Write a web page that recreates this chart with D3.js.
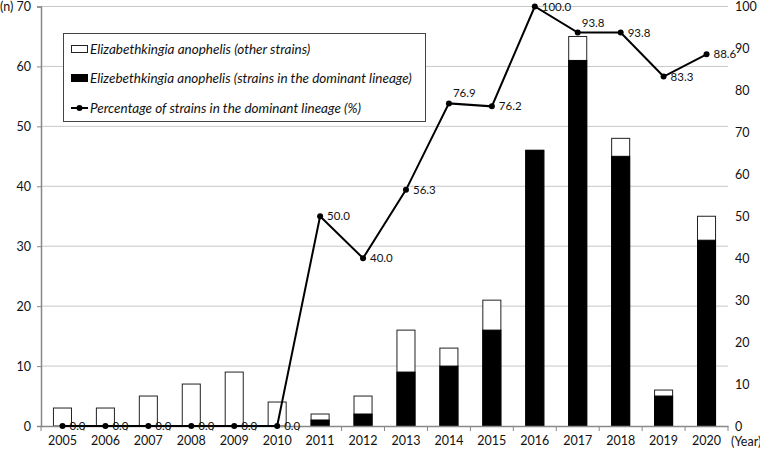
<!DOCTYPE html>
<html><head><meta charset="utf-8">
<script src="https://cdn.jsdelivr.net/npm/d3@7"></script>
<style>body{margin:0;background:#fff}svg{display:block}text{font-family:Lato,"Open Sans","DejaVu Sans",sans-serif}</style>
</head><body><svg id="c" width="760" height="451"></svg>
<script>
const years = ["2005","2006","2007","2008","2009","2010","2011","2012","2013","2014","2015","2016","2017","2018","2019","2020"];
const totalStrains = [3,3,5,7,9,4,2,5,16,13,21,46,65,48,6,35];
const dominantStrains = [0,0,0,0,0,0,1,2,9,10,16,46,61,45,5,31];
const percentDominant = [0,0,0,0,0,0,50,40,56.3,76.9,76.2,100,93.8,93.8,83.3,88.6];
const labelPos = ["r","r","r","r","r","r","r","r","r","a","r","r","a","r","r","r"];
const leftTicks = [0,10,20,30,40,50,60,70];
const rightTicks = [0,10,20,30,40,50,60,70,80,90,100];
const legendLabels = ["Elizabethkingia anophelis (other strains)","Elizebethkingia anophelis (strains in the dominant lineage)","Percentage of strains in the dominant lineage (%)"];

const svg = d3.select("#c");
const L = 41, R = 728, T = 6.5, B = 426;
const x = d3.scaleBand().domain(years).range([L, R]).paddingInner(0.58).paddingOuter(0.29);
const xc = d3.scalePoint().domain(years).range([L, R]).padding(0.5);
const yL = d3.scaleLinear().domain([0,70]).range([B, T]);
const yR = d3.scaleLinear().domain([0,100]).range([B, T]);

svg.append("g").selectAll("line").data(leftTicks.filter(d=>d>0)).join("line")
  .attr("x1", L).attr("x2", R).attr("y1", d=>yL(d)).attr("y2", d=>yL(d))
  .attr("stroke", "#c8c8c8").attr("stroke-width", 1);

const gl = svg.append("g").attr("transform", `translate(${L},0)`)
  .call(d3.axisLeft(yL).tickValues(leftTicks).tickSize(4).tickPadding(6));
gl.select(".domain").attr("stroke", "#888").attr("stroke-width", 1.5);
gl.selectAll(".tick line").attr("stroke", "#888");
gl.selectAll(".tick text").attr("font-size", 12.5).attr("fill", "#111");
svg.append("text").attr("x", 0).attr("y", yL(70)+4.5).attr("font-size", 12.5).attr("fill","#111").text("(n)");

const gr = svg.append("g").attr("transform", `translate(${R+7},0)`)
  .call(d3.axisRight(yR).tickValues(rightTicks).tickSize(0).tickPadding(0));
gr.select(".domain").remove();
gr.selectAll(".tick text").attr("font-size", 12.5).attr("fill", "#111");

svg.append("g").selectAll("rect").data(years).join("rect")
  .attr("x", d=>x(d)).attr("width", x.bandwidth())
  .attr("y", (d,i)=>yL(totalStrains[i])).attr("height", (d,i)=>B - yL(totalStrains[i]))
  .attr("fill", "#fff").attr("stroke", "#222").attr("stroke-width", 1);
svg.append("g").selectAll("rect").data(years).join("rect")
  .attr("x", d=>x(d)).attr("width", x.bandwidth())
  .attr("y", (d,i)=>yL(dominantStrains[i])).attr("height", (d,i)=>B - yL(dominantStrains[i]))
  .attr("fill", "#000").attr("stroke", (d,i)=>dominantStrains[i]>0?"#000":"none").attr("stroke-width", 1);

const gx = svg.append("g").attr("transform", `translate(0,${B})`)
  .call(d3.axisBottom(x).tickSize(0).tickPadding(10));
gx.select(".domain").attr("stroke", "#888").attr("stroke-width", 1.5);
gx.selectAll(".tick text").attr("font-size", 12.5).attr("fill", "#111");
const step = (R - L) / years.length;
svg.append("g").selectAll("line").data(d3.range(years.length+1)).join("line")
  .attr("x1", i=>L+i*step).attr("x2", i=>L+i*step).attr("y1", B).attr("y2", B+5)
  .attr("stroke", "#888");
svg.append("text").attr("x", 731).attr("y", B+20).attr("font-size", 12.5).attr("fill","#111").text("(Year)");

const line = d3.line().x((d,i)=>xc(years[i])).y(d=>yR(d));
svg.append("path").datum(percentDominant).attr("d", line)
  .attr("fill","none").attr("stroke","#000").attr("stroke-width",2);
svg.append("g").selectAll("circle").data(percentDominant).join("circle")
  .attr("cx",(d,i)=>xc(years[i])).attr("cy",d=>yR(d)).attr("r",3).attr("fill","#000");
svg.append("g").selectAll("text").data(percentDominant).join("text")
  .attr("x",(d,i)=>xc(years[i]) + (labelPos[i]==="a"?4:7))
  .attr("y",(d,i)=>yR(d) + (labelPos[i]==="a"?-6:4))
  .attr("font-size", 11.5).attr("fill","#111")
  .text(d=>d.toFixed(1));

const lg = svg.append("g");
lg.append("rect").attr("x",63.5).attr("y",33.5).attr("width",362).attr("height",88)
  .attr("fill","#fff").attr("stroke","#444").attr("stroke-width",1);
const ly = [49, 78, 108];
lg.append("rect").attr("x",71.5).attr("y",ly[0]-3.5).attr("width",16).attr("height",7).attr("fill","#fff").attr("stroke","#222");
lg.append("rect").attr("x",71.5).attr("y",ly[1]-3.5).attr("width",16).attr("height",7).attr("fill","#000").attr("stroke","#000");
lg.append("line").attr("x1",71).attr("x2",88).attr("y1",ly[2]).attr("y2",ly[2]).attr("stroke","#000").attr("stroke-width",2);
lg.append("circle").attr("cx",79.5).attr("cy",ly[2]).attr("r",3).attr("fill","#000");
lg.selectAll("text.l").data(legendLabels).join("text").attr("class","l")
  .attr("x",90).attr("y",(d,i)=>ly[i]+5).attr("font-size",13.5).attr("font-style","italic").attr("fill","#111")
  .text(d=>d);
</script></body></html>
